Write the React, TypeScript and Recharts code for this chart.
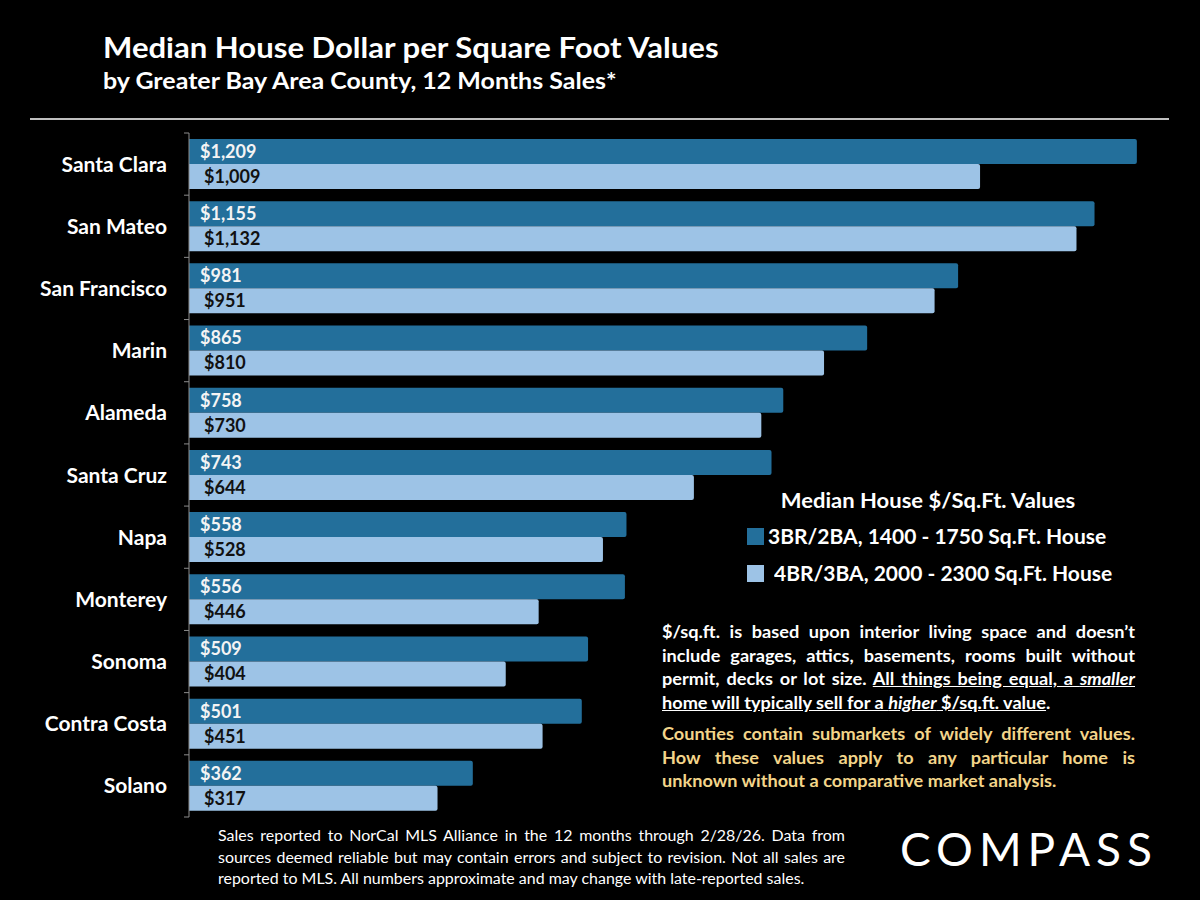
import { BarChart, Bar, XAxis, YAxis, LabelList, Legend } from 'recharts'

const counties = [
  'Santa Clara',
  'San Mateo',
  'San Francisco',
  'Marin',
  'Alameda',
  'Santa Cruz',
  'Napa',
  'Monterey',
  'Sonoma',
  'Contra Costa',
  'Solano',
]
const smallHouse = [1209, 1155, 981, 865, 758, 743, 558, 556, 509, 501, 362]
const largeHouse = [1009, 1132, 951, 810, 730, 644, 528, 446, 404, 451, 317]

const smallName = '3BR/2BA, 1400 - 1750 Sq.Ft. House'
const largeName = '4BR/3BA, 2000 - 2300 Sq.Ft. House'

const cautionLines = [
  'Counties contain submarkets of widely different values.',
  'How these values apply to any particular home is',
  'unknown without a comparative market analysis.',
]

const DARK = '#236f9b'
const LIGHT = '#9dc3e6'
const FONT = 'Lato, "Noto Sans", sans-serif'
// the slide's lettering is a little wider than Lato, so stretch text blocks a bit
const STRETCH = 'scaleX(1.1)'

const data = counties.map((county, i) => ({
  county,
  small: smallHouse[i],
  large: largeHouse[i],
}))

const money = (v: any) => `$${Number(v).toLocaleString('en-US')}`

// category label plus the small tick marks that sit on the band edges
const CountyTick = (props: any) => {
  const { x, y, payload, index } = props
  const half = payload && payload.offset ? payload.offset : 31
  const ax = x + 22
  return (
    <g>
      <line x1={ax - 5} x2={ax} y1={y - half} y2={y - half} stroke="#8c8c8c" />
      {index === counties.length - 1 && (
        <line x1={ax - 5} x2={ax} y1={y + half} y2={y + half} stroke="#8c8c8c" />
      )}
      <text
        x={x}
        y={y}
        dy="0.36em"
        textAnchor="end"
        fill="#ffffff"
        fontFamily={FONT}
        fontWeight={700}
        fontSize={21}
      >
        {payload.value}
      </text>
    </g>
  )
}

const LegendBox = (props: any) => {
  const items = props.payload || []
  return (
    <div style={{ fontFamily: FONT, fontWeight: 700, color: '#fff', fontSize: 20, lineHeight: '1.2' }}>
      <div style={{ width: 362, textAlign: 'center', transform: STRETCH }}>Median House $/Sq.Ft. Values</div>
      {items.map((it: any, i: number) => (
        <div key={i} style={{ display: 'flex', alignItems: 'center', marginTop: i === 0 ? 12 : 13 }}>
          <span style={{ display: 'inline-block', width: 17, height: 17, background: it.color, marginRight: i === 0 ? 4 : 10 }} />
          <span style={{ display: 'inline-block', transform: 'scaleX(1.05)', transformOrigin: 'left center' }}>
            {it.value}
          </span>
        </div>
      ))}
    </div>
  )
}

export default function App() {
  return (
    <div
      style={{
        position: 'absolute',
        left: 0,
        top: 0,
        width: 1200,
        height: 900,
        background: '#000',
        overflow: 'hidden',
        fontFamily: FONT,
      }}
    >
      <div
        style={{
          position: 'absolute',
          left: 103,
          top: 31,
          color: '#fff',
          fontWeight: 700,
          fontSize: 28,
          lineHeight: '1.2',
          whiteSpace: 'nowrap',
          transform: 'scaleX(1.11)',
          transformOrigin: 'left top',
        }}
      >
        Median House Dollar per Square Foot Values
      </div>
      <div
        style={{
          position: 'absolute',
          left: 103,
          top: 67,
          color: '#fff',
          fontWeight: 700,
          fontSize: 22.5,
          lineHeight: '1.2',
          whiteSpace: 'nowrap',
          transform: 'scaleX(1.11)',
          transformOrigin: 'left top',
        }}
      >
        by Greater Bay Area County, 12 Months Sales*
      </div>
      <div style={{ position: 'absolute', left: 30, top: 118, width: 1139, height: 2, background: '#bfbfbf' }} />

      <div style={{ position: 'absolute', left: 0, top: 0 }}>
        <BarChart
          width={1200}
          height={900}
          data={data}
          layout="vertical"
          margin={{ top: 133, right: 31, bottom: 83, left: 0 }}
          barCategoryGap={6}
          barGap={0}
        >
          <XAxis type="number" domain={[0, 1250]} hide />
          <YAxis
            type="category"
            dataKey="county"
            width={189}
            axisLine={{ stroke: '#8c8c8c' }}
            tickLine={false}
            tickSize={6}
            tickMargin={16}
            interval={0}
            tick={<CountyTick />}
          />
          <Legend
            layout="vertical"
            verticalAlign="middle"
            align="center"
            content={<LegendBox />}
            wrapperStyle={{ position: 'absolute', left: 747, top: 488, width: 420, height: 110 }}
          />
          <Bar dataKey="small" name={smallName} fill={DARK} radius={[0, 2, 2, 0]} isAnimationActive={false}>
            <LabelList
              dataKey="small"
              position="insideLeft"
              offset={11}
              formatter={money}
              fill="#f4f4f4"
              fontFamily={FONT}
              fontWeight={700}
              fontSize={18}
            />
          </Bar>
          <Bar dataKey="large" name={largeName} fill={LIGHT} radius={[0, 2, 2, 0]} isAnimationActive={false}>
            <LabelList
              dataKey="large"
              position="insideLeft"
              offset={15}
              formatter={money}
              fill="#111111"
              fontFamily={FONT}
              fontWeight={700}
              fontSize={18}
            />
          </Bar>
        </BarChart>
      </div>

      <div
        style={{
          position: 'absolute',
          left: 662,
          top: 621,
          width: 430,
          color: '#fff',
          fontWeight: 700,
          fontSize: 16.5,
          lineHeight: '23.5px',
          textAlign: 'justify',
          transform: STRETCH,
          transformOrigin: 'left top',
        }}
      >
        $/sq.ft. is based upon interior living space and doesn’t include garages, attics, basements, rooms built without
        permit, decks or lot size.{' '}
        <span style={{ textDecoration: 'underline' }}>
          All things being equal, a <i>smaller</i> home will typically sell for a <i>higher</i> $/sq.ft. value
        </span>
        .
      </div>
      <div
        style={{
          position: 'absolute',
          left: 662,
          top: 723,
          width: 430,
          color: '#f3d58a',
          fontWeight: 700,
          fontSize: 16.5,
          lineHeight: '23.5px',
          transform: STRETCH,
          transformOrigin: 'left top',
        }}
      >
        {cautionLines.map((line, i) => (
          <div
            key={i}
            style={{
              whiteSpace: 'nowrap',
              textAlign: i === cautionLines.length - 1 ? 'left' : 'justify',
              textAlignLast: i === cautionLines.length - 1 ? 'left' : 'justify',
            }}
          >
            {line}
          </div>
        ))}
      </div>

      <div
        style={{
          position: 'absolute',
          left: 218,
          top: 825,
          width: 570,
          color: '#fff',
          fontSize: 14.5,
          lineHeight: '21.5px',
          textAlign: 'justify',
          transform: STRETCH,
          transformOrigin: 'left top',
        }}
      >
        Sales reported to NorCal MLS Alliance in the 12 months through 2/28/26. Data from sources deemed reliable but may
        contain errors and subject to revision. Not all sales are reported to MLS. All numbers approximate and may change
        with late-reported sales.
      </div>

      <div
        style={{
          position: 'absolute',
          left: 900,
          top: 821,
          color: '#fff',
          fontSize: 46,
          lineHeight: '1.2',
          letterSpacing: 6,
          fontWeight: 400,
        }}
      >
        COMPASS
      </div>
    </div>
  )
}
